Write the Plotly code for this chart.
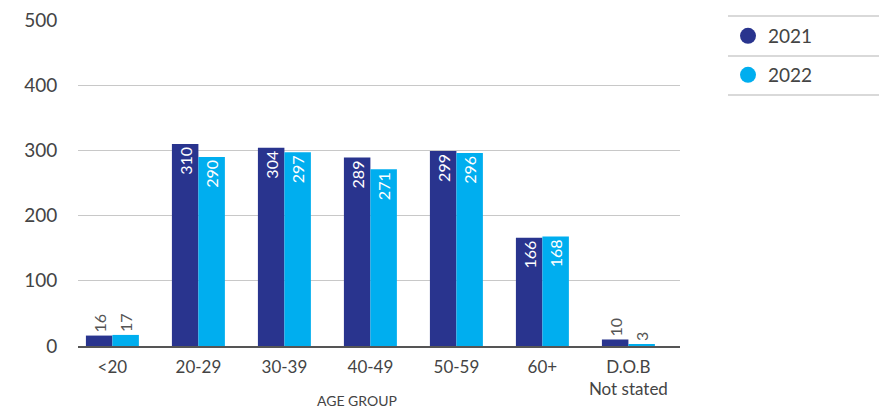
import plotly.graph_objects as go

categories = ["<20", "20-29", "30-39", "40-49", "50-59", "60+", "D.O.B<br>Not stated"]
values_2021 = [16, 310, 304, 289, 299, 166, 10]
values_2022 = [17, 290, 297, 271, 296, 168, 3]
series_names = ["2021", "2022"]
colors = ["#29348e", "#00aeef"]

FONT = "Lato, 'Open Sans', sans-serif"
W, H = 879, 409
L, R, T, B = 78, 199, 20, 63


def text_positions(vals):
    return ["inside" if v > 60 else "outside" for v in vals]


fig = go.Figure()
for name, vals, col in zip(series_names, [values_2021, values_2022], colors):
    fig.add_trace(go.Bar(
        x=categories, y=vals, name=name, marker_color=col,
        marker_line_width=0,
        text=[str(v) for v in vals], textposition=text_positions(vals),
        textangle=-90, insidetextanchor="end", constraintext="none",
        insidetextfont=dict(color="white", size=16, family=FONT),
        outsidetextfont=dict(color="#555555", size=16, family=FONT),
        cliponaxis=False, showlegend=False,
    ))

# legend entries with round markers, one legend per series
for i, (name, col) in enumerate(zip(series_names, colors)):
    fig.add_trace(go.Scatter(
        x=[None], y=[None], mode="markers", name=name,
        marker=dict(color=col, size=18, symbol="circle"),
        legend="legend" if i == 0 else "legend2",
    ))

legend_style = dict(xref="container", yref="container", xanchor="left", yanchor="middle",
                    font=dict(size=19, color="#444444", family=FONT),
                    bgcolor="rgba(0,0,0,0)", itemwidth=30)
fig.update_layout(
    legend=dict(x=728 / W, y=1 - 36 / H, **legend_style),
    legend2=dict(x=728 / W, y=1 - 75 / H, **legend_style),
)

# separator lines around the legend entries
plot_w = W - L - R
plot_h = H - T - B
for ypx in [16, 56, 95]:
    yp = (H - B - ypx) / plot_h
    fig.add_shape(type="line", xref="paper", yref="paper",
                  x0=(728 - L) / plot_w, x1=(879 - L) / plot_w,
                  y0=yp, y1=yp, line=dict(color="#cccccc", width=1.5))

fig.add_annotation(text="AGE GROUP", xref="paper", yref="paper",
                   x=(357 - L) / plot_w, y=(H - B - 400) / plot_h,
                   xanchor="center", yanchor="middle", showarrow=False,
                   font=dict(size=14, color="#444444", family=FONT))

fig.update_layout(
    width=W, height=H, margin=dict(l=L, r=R, t=T, b=B),
    plot_bgcolor="white", paper_bgcolor="white",
    barmode="group", bargap=0.384, bargroupgap=0,
    font=dict(family=FONT, color="#444444"),
    xaxis=dict(
        range=[-0.40, 6.60], automargin=False,
        tickfont=dict(size=17, color="#444444"),
        showline=True, linecolor="#555555", linewidth=1.5,
        ticks="outside", ticklen=5, tickcolor="rgba(0,0,0,0)", showgrid=False,
    ),
    yaxis=dict(
        range=[0, 500], dtick=100, tickfont=dict(size=19, color="#444444"),
        showgrid=True, gridcolor="#c8c8c8", gridwidth=1, automargin=False,
        zeroline=False, ticks="outside", ticklen=16, tickcolor="rgba(0,0,0,0)",
    ),
)

fig.write_html("out.html")
